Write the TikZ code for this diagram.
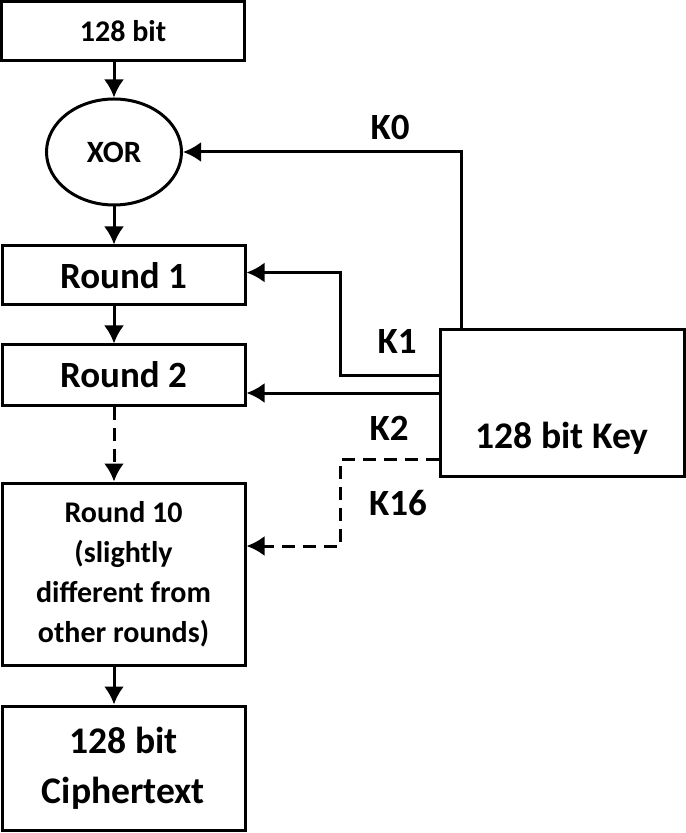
\documentclass[tikz,border=0pt]{standalone}
\usepackage{fontspec}
\setmainfont{Carlito}
\usetikzlibrary{arrows.meta,shapes.geometric}
\begin{document}
\begin{tikzpicture}
    [
    x=0.5pt,y=-0.5pt,
    font=\bfseries,
    block/.style={rectangle,draw,line width=1.5pt,minimum width=121.5pt,align=center,inner sep=0pt},
    arr/.style={line width=1.5pt,-{Latex[length=9pt,width=10pt]}},
    klabel/.style={font=\fontsize{18.5}{20}\selectfont\bfseries}
    ]
    \useasboundingbox (0,0) rectangle (685,833);
    \node (in) at (123,31.5) [block,minimum height=29.5pt,font=\fontsize{15}{18}\selectfont\bfseries] {128 bit};
    \node (xor) at (114,152) [ellipse,draw,line width=1.5pt,minimum width=67.5pt,minimum height=53pt,inner sep=0pt,font=\fontsize{15.5}{18}\selectfont\bfseries] {XOR};
    \node (r1) at (123.5,275.5) [block,minimum height=29.5pt,text depth=0pt,font=\fontsize{18.5}{20}\selectfont\bfseries] {Round 1};
    \node (r2) at (123.5,375) [block,minimum height=30pt,text depth=0pt,font=\fontsize{18.5}{20}\selectfont\bfseries] {Round 2};
    \node (r10) at (123.5,574) [block,minimum height=91pt,font=\fontsize{15}{20}\selectfont\bfseries] {Round 10\\(slightly\\different from\\other rounds)};
    \node (ct) at (123.5,768) [block,minimum height=62pt,font=\fontsize{18.8}{25}\selectfont\bfseries] {128 bit\\Ciphertext};
    \node (key) at (562,403) [block,minimum width=122pt,minimum height=73pt,
      label={[font=\fontsize{18.8}{20}\selectfont\bfseries,above=8pt]south:128 bit Key}] {};
    \node (k0) at (390,127) [klabel] {K0};
    \node (k1) at (397,341) [klabel] {K1};
    \node (k2) at (389,428) [klabel] {K2};
    \node (k16) at (398,503) [klabel] {K16};
    \draw [arr] (in.south -| xor) to (xor);
    \draw [arr] (xor) to (xor |- r1.north);
    \draw [arr] (r1.south -| xor) to (r2.north -| xor);
    \draw [arr,dash pattern=on 6.5pt off 4pt] (r2.south -| xor) to (r10.north -| xor);
    \draw [arr] (r10.south -| xor) to (ct.north -| xor);
    \draw [arr] ([xshift=11.5pt]key.north west) |- (xor);
    \draw [arr] ([yshift=14pt]key.west) -- ++(-98,0) |- ([yshift=1.5pt]r1.east);
    \draw [arr] ([yshift=5pt]key.west) -- ([yshift=-9pt]r2.east);
    \draw [arr,dash pattern=on 6.5pt off 4pt] ([yshift=-28pt]key.west) -- ++(-98,0) |- ([yshift=14pt]r10.east);
  \end{tikzpicture}
\end{document}
